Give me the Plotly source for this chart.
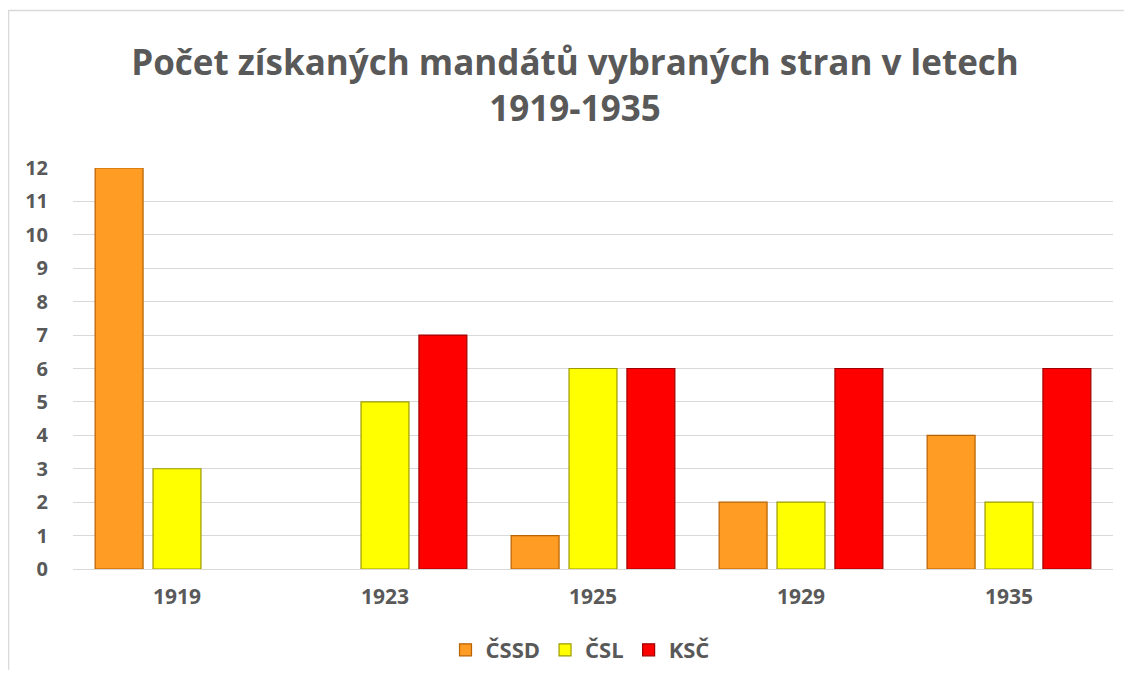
import plotly.graph_objects as go

years = ["1919", "1923", "1925", "1929", "1935"]
cssd = [12, None, 1, 2, 4]
csl = [3, 5, 6, 2, 2]
ksc = [None, 7, 6, 6, 6]
y_ticks = list(range(0, 13))

FONT = "Open Sans"
GREY = "#595959"

# page body has an 8px margin; the figure starts at (8, 8)
OFF = 8
W, H = 1116, 662
L, R, T, B = 73 - OFF, W - (1113 - OFF), 168 - OFF, H - (569 - OFF)
pw, ph = W - L - R, H - T - B


def px(x_page):
    return (x_page - OFF - L) / pw


def py(y_page):
    return (H - B - (y_page - OFF)) / ph


def cy(y_page):
    return 1 - (y_page - OFF) / H


fig = go.Figure()
series = [
    ("ČSSD", cssd, "#FF9C24", "#B86200"),
    ("ČSL", csl, "#FFFF00", "#9C9C00"),
    ("KSČ", ksc, "#FF0000", "#A00000"),
]
for name, vals, col, line in series:
    fig.add_trace(go.Bar(
        x=years, y=vals, name=name,
        marker=dict(color=col, line=dict(color=line, width=1.2)),
    ))

fig.add_shape(type="rect", xref="paper", yref="paper",
              x0=px(8.5), x1=px(1160), y0=py(720), y1=py(10.5),
              line=dict(color="#D9D9D9", width=1.5), layer="below")

fig.update_layout(
    width=W, height=H,
    margin=dict(l=L, r=R, t=T, b=B, autoexpand=False),
    paper_bgcolor="white", plot_bgcolor="white",
    barmode="group", bargap=0.165, bargroupgap=0.172,
    title=dict(
        text="Počet získaných mandátů vybraných stran v letech<br>1919-1935",
        x=px(575), xref="paper", xanchor="center",
        y=cy(75), yanchor="top",
        font=dict(family=FONT, size=35, color=GREY, weight="bold"),
    ),
    font=dict(family=FONT, color=GREY),
    showlegend=True,
    legend=dict(
        orientation="h", x=px(580), xanchor="center",
        yref="container", y=cy(650), yanchor="middle",
        font=dict(family=FONT, size=22, color=GREY, weight="bold"),
        traceorder="normal", itemwidth=30,
    ),
    xaxis=dict(
        showgrid=False, showline=True, linecolor="#D9D9D9", linewidth=1,
        tickfont=dict(family=FONT, size=21, color=GREY, weight="bold"),
        ticks="", ticklabelstandoff=9, automargin=False,
    ),
    yaxis=dict(
        range=[0, 12], tickvals=y_ticks, showgrid=True, gridcolor="#D9D9D9",
        gridwidth=1, zeroline=False, showline=False,
        tickfont=dict(family=FONT, size=20, color=GREY, weight="bold"),
        ticks="", ticklabelstandoff=24, automargin=False,
    ),
)

fig.write_html("out.html")
